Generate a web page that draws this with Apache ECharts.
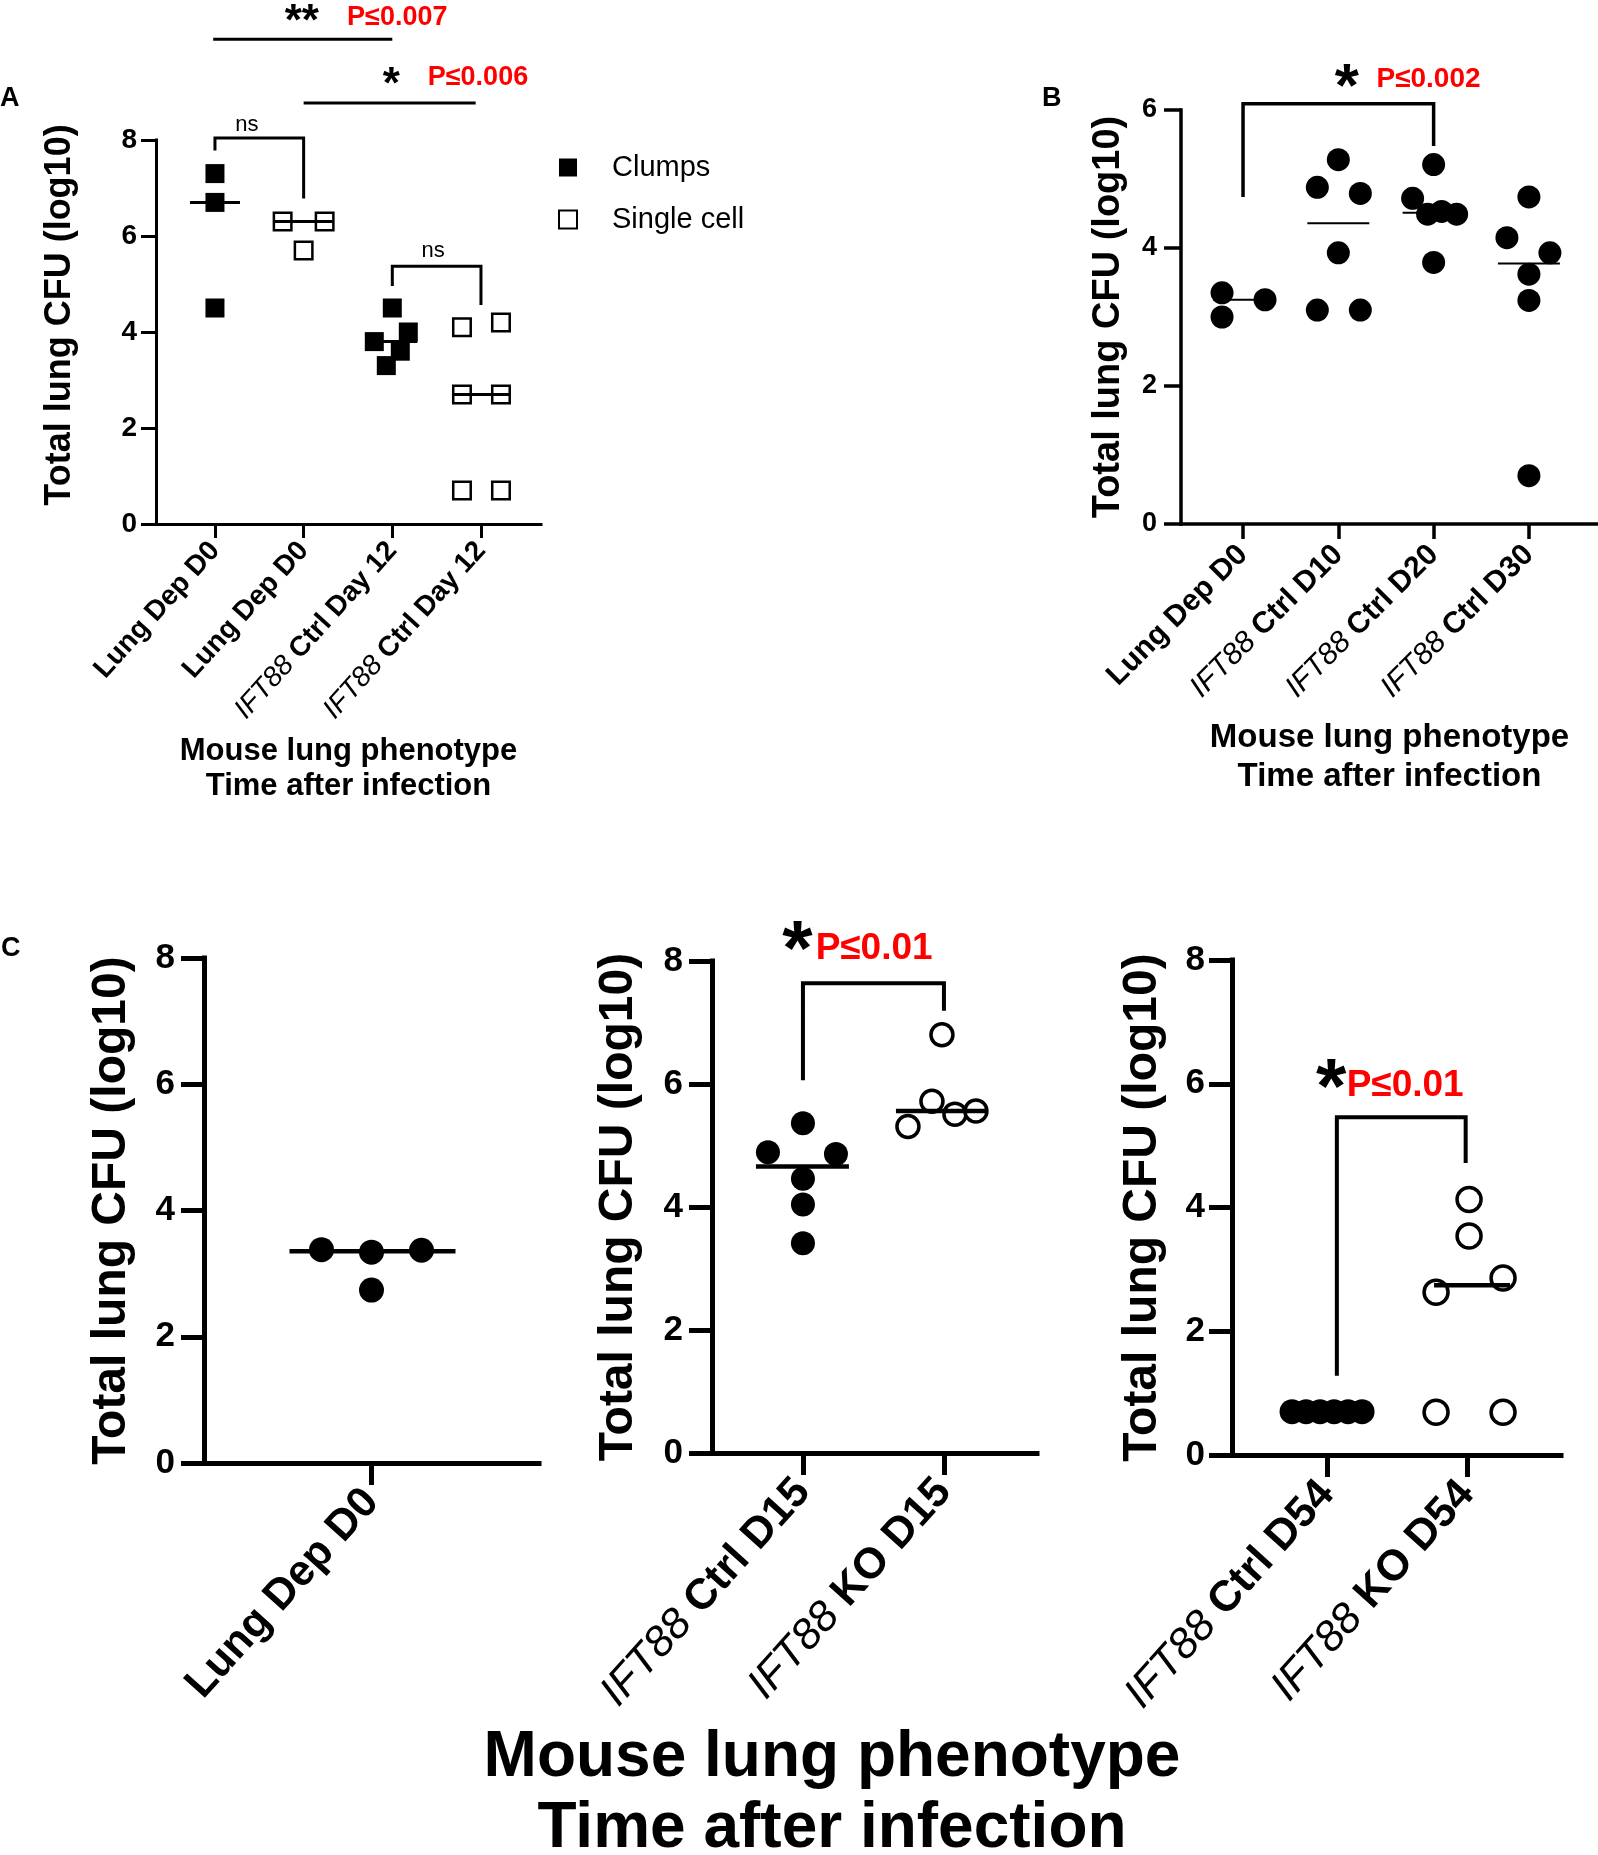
<!DOCTYPE html>
<html><head><meta charset="utf-8">
<script src="https://cdn.jsdelivr.net/npm/echarts@6/dist/echarts.min.js"></script>
<style>html,body{margin:0;padding:0;background:#fff}#c{width:1598px;height:1855px}</style>
</head><body><div id="c"></div>
<script>
// ---------------- DATA ----------------
// Panel A
const catsA = ['Lung Dep D0', 'Lung Dep D0', 'IFT88 Ctrl Day 12', 'IFT88 Ctrl Day 12'];
const ticksA = [0, 2, 4, 6, 8];
const aClumpsD0 = [7.3, 6.7, 4.5];
const aSingleD0 = [6.3, 6.3, 5.7];
const aClumpsD12 = [4.5, 4.0, 3.8, 3.6, 3.3];
const aSingleD12 = [4.1, 4.2, 2.7, 2.7, 0.7, 0.7];
// Panel B
const catsB = ['Lung Dep D0', 'IFT88 Ctrl D10', 'IFT88 Ctrl D20', 'IFT88 Ctrl D30'];
const ticksB = [0, 2, 4, 6];
const bD0 = [3.35, 3.0, 3.25];
const bD10 = [5.28, 4.88, 4.79, 3.93, 3.1, 3.1];
const bD20 = [5.21, 4.72, 4.49, 4.53, 4.49, 3.79];
const bD30 = [4.74, 4.15, 3.93, 3.62, 3.24, 0.7];
// Panel C
const catsC1 = ['Lung Dep D0'];
const catsC2 = ['IFT88 Ctrl D15', 'IFT88 KO D15'];
const catsC3 = ['IFT88 Ctrl D54', 'IFT88 KO D54'];
const ticksC = [0, 2, 4, 6, 8];
const c1D0 = [3.38, 3.34, 3.37, 2.74];
const c2Ctrl = [5.36, 4.89, 4.86, 4.46, 4.04, 3.41];
const c2KO = [6.8, 5.31, 5.72, 5.51, 5.56];
const c3Ctrl = [0.7, 0.7, 0.7, 0.7, 0.7, 0.7];
const c3KO = [4.13, 3.54, 2.86, 2.63, 0.69, 0.69];

// ---------------- STYLE / LAYOUT ----------------
const FONT = '"Liberation Sans", Arial, Helvetica, sans-serif';
const RED = '#ff0000';
// horizontal jitter of the dots inside a column (pixels)
const jitA = { cD0: [0, 0, 0], sD0: [-21, 21, 0], cD12: [0, 16, -18, 8, -6], sD12: [-19, 20, -19, 20, -19, 20] };
const jitB = { d0: [-21, -21, 22], d10: [0, -21, 22, 0, -21, 22], d20: [0, -21, -6, 8, 23, 0], d30: [0, -22, 21, 0, 0, 0] };
const jitC = { d0: [-50, 0, 50, 0], ctrl15: [0, -35, 33, 0, 0, 0], ko15: [-2, -36, -12, 11, 32],
               ctrl54: [-35, -21, -7, 7, 21, 35], ko54: [2, 2, 36, -31, -31, 36] };

function median(a) {
  const s = a.slice().sort((x, y) => x - y), n = s.length;
  return n % 2 ? s[(n - 1) / 2] : (s[n / 2 - 1] + s[n / 2]) / 2;
}
function fmtCat(name) {
  if (name.indexOf('IFT88 ') === 0) return '{i|IFT88}{b| ' + name.slice(6) + '}';
  return '{b|' + name + '}';
}

const grids = [
  { left: 156, top: 140, width: 385, height: 384 },   // A
  { left: 1181, top: 110, width: 417, height: 414 },  // B
  { left: 204, top: 958, width: 335, height: 505 },   // C1
  { left: 712, top: 961, width: 325, height: 492 },   // C2
  { left: 1232, top: 960, width: 329, height: 495 }   // C3
].map(g => Object.assign({ outerBoundsMode: 'none', containLabel: false }, g));

function xAx(g, min, max, cats, o) {
  const pos = cats.map((_, i) => i + 1);
  return {
    type: 'value', gridIndex: g, min, max, position: 'bottom',
    axisLine: { show: true, onZero: false, lineStyle: { color: '#000', width: o.lw, cap: 'square' } },
    axisTick: { show: true, customValues: pos, length: o.tick, lineStyle: { color: '#000', width: o.lw } },
    axisLabel: {
      show: true, customValues: pos, rotate: o.rot, margin: o.margin, hideOverlap: false,
      formatter: v => fmtCat(cats[Math.round(v) - 1]),
      rich: {
        b: { fontWeight: 'bold', fontSize: o.fs, fontFamily: FONT, color: '#000' },
        i: { fontStyle: 'italic', fontWeight: 'normal', fontSize: o.fs, fontFamily: FONT, color: '#000' }
      }
    },
    splitLine: { show: false },
    name: o.name || '', nameLocation: 'middle', nameGap: o.nameGap || 0,
    nameTextStyle: { fontSize: o.nameFs || 12, fontWeight: 'bold', fontFamily: FONT, color: '#000', lineHeight: o.nameLh || 14 }
  };
}
function yAx(g, ticks, o) {
  return {
    type: 'value', gridIndex: g, min: 0, max: ticks[ticks.length - 1], interval: 2,
    axisLine: { show: true, onZero: false, lineStyle: { color: '#000', width: o.lw, cap: 'square' } },
    axisTick: { show: true, customValues: ticks, length: o.tick, lineStyle: { color: '#000', width: o.lw } },
    axisLabel: { show: true, customValues: ticks, margin: o.margin, color: '#000', fontSize: o.fs, fontWeight: 'bold', fontFamily: FONT,
                 showMinLabel: true, showMaxLabel: true },
    splitLine: { show: false },
    name: 'Total lung CFU (log10)', nameLocation: 'middle', nameGap: o.nameGap,
    nameTextStyle: { fontSize: o.nameFs, fontWeight: 'bold', fontFamily: FONT, color: '#000', padding: o.namePad || 0 }
  };
}

const xAxes = [
  xAx(0, 0.335, 4.677, catsA, { lw: 3, tick: 14, rot: 48, margin: 22, fs: 28,
    name: 'Mouse lung phenotype\nTime after infection', nameGap: 210, nameFs: 31, nameLh: 35 }),
  xAx(1, 0.349, 4.725, catsB, { lw: 3.5, tick: 15, rot: 45, margin: 26, fs: 30,
    name: 'Mouse lung phenotype\nTime after infection', nameGap: 194, nameFs: 33, nameLh: 39 }),
  xAx(2, 0, 2, catsC1, { lw: 5, tick: 22, rot: 48, margin: 32, fs: 43 }),
  xAx(3, 0.355, 2.66, catsC2, { lw: 5, tick: 22, rot: 48, margin: 32, fs: 43 }),
  xAx(4, 0.321, 2.671, catsC3, { lw: 5, tick: 22, rot: 48, margin: 32, fs: 43 })
];
const yAxes = [
  yAx(0, ticksA, { lw: 3, tick: 15, margin: 19, fs: 28, nameFs: 36, nameGap: 78, namePad: [0, 0, 0, 34] }),
  yAx(1, ticksB, { lw: 3.5, tick: 17, margin: 24, fs: 27, nameFs: 38, nameGap: 53 }),
  yAx(2, ticksC, { lw: 5, tick: 23, margin: 29, fs: 35, nameFs: 48, nameGap: 68 }),
  yAx(3, ticksC, { lw: 5, tick: 23, margin: 29, fs: 35, nameFs: 48, nameGap: 69 }),
  yAx(4, ticksC, { lw: 5, tick: 23, margin: 27, fs: 35, nameFs: 48, nameGap: 65 })
];

const series = [];
function dots(name, g, cat, vals, jit, sym, size, open, bw) {
  series.push({
    type: 'scatter', name, xAxisIndex: g, yAxisIndex: g, symbol: sym, symbolSize: size, z: 3,
    silent: true, animation: false, clip: false,
    itemStyle: open ? { color: '#fff', borderColor: '#000', borderWidth: bw, opacity: 1 } : { color: '#000', opacity: 1 },
    data: vals.map((v, i) => ({ value: [cat, v], symbolOffset: [jit[i], 0] }))
  });
}
function medLine(g, cat, vals, hl, hr, lw) {
  series.push({
    type: 'custom', xAxisIndex: g, yAxisIndex: g, z: 5, silent: true, animation: false,
    data: [[cat, median(vals)]],
    renderItem: (p, api) => {
      const c = api.coord([api.value(0), api.value(1)]);
      return { type: 'line', shape: { x1: c[0] - hl, y1: c[1], x2: c[0] + hr, y2: c[1] }, style: { stroke: '#000', lineWidth: lw } };
    }
  });
}
// annotations (brackets, stars, p-values) in data coordinates of each panel
function annot(g, list) {
  series.push({
    type: 'custom', xAxisIndex: g, yAxisIndex: g, z: 6, silent: true, animation: false, clip: false,
    data: list.map(() => [1, 1]),
    renderItem: (p, api) => {
      const a = list[p.dataIndex];
      if (a.pts) {
        return { type: 'polyline', shape: { points: a.pts.map(q => api.coord(q)) },
                 style: { stroke: '#000', fill: 'none', lineWidth: a.w } };
      }
      const c = api.coord(a.at);
      return { type: 'text', x: c[0], y: c[1],
               style: { text: a.t, fill: a.color || '#000', font: (a.bold === false ? 'normal ' : 'bold ') + a.fs + 'px ' + FONT,
                        align: a.align || 'center', verticalAlign: 'middle' } };
    }
  });
}

// ---- Panel A
dots('Clumps', 0, 1, aClumpsD0, jitA.cD0, 'rect', 19, false);
dots('Single cell', 0, 2, aSingleD0, jitA.sD0, 'rect', 17.5, true, 2.5);
dots('Clumps', 0, 3, aClumpsD12, jitA.cD12, 'rect', 19, false);
dots('Single cell', 0, 4, aSingleD12, jitA.sD12, 'rect', 17.5, true, 2.5);
medLine(0, 1, aClumpsD0, 25, 25, 3);
medLine(0, 2, aSingleD0, 29, 29, 3);
medLine(0, 3, aClumpsD12, 25, 25, 3);
medLine(0, 4, aSingleD12, 29, 29, 3);
annot(0, [
  { pts: [[0.98, 10.1], [3.0, 10.1]], w: 3 },
  { pts: [[2.0, 8.77], [3.94, 8.77]], w: 3 },
  { pts: [[1, 7.78], [1, 8.04], [2, 8.04], [2, 6.78]], w: 3 },
  { pts: [[3, 4.96], [3, 5.37], [4, 5.37], [4, 4.56]], w: 3 },
  { at: [1.98, 10.45], t: '**', fs: 44 },
  { at: [2.49, 10.55], t: 'P≤0.007', fs: 27, color: RED, align: 'left' },
  { at: [2.99, 9.12], t: '*', fs: 44 },
  { at: [3.40, 9.3], t: 'P≤0.006', fs: 27, color: RED, align: 'left' },
  { at: [1.36, 8.32], t: 'ns', fs: 22, bold: false },
  { at: [3.46, 5.69], t: 'ns', fs: 22, bold: false }
]);

// ---- Panel B
dots('b0', 1, 1, bD0, jitB.d0, 'circle', 23, false);
dots('b10', 1, 2, bD10, jitB.d10, 'circle', 23, false);
dots('b20', 1, 3, bD20, jitB.d20, 'circle', 23, false);
dots('b30', 1, 4, bD30, jitB.d30, 'circle', 23, false);
medLine(1, 1, bD0, 30, 22, 2);
medLine(1, 2, bD10, 31, 31, 2);
medLine(1, 3, bD20, 31, 31, 2);
medLine(1, 4, bD30, 31, 31, 2);
annot(1, [
  { pts: [[1, 4.74], [1, 6.09], [3, 6.09], [3, 5.48]], w: 3.5 },
  { at: [2.09, 6.3], t: '*', fs: 62 },
  { at: [2.40, 6.45], t: 'P≤0.002', fs: 28, color: RED, align: 'left' }
]);

// ---- Panel C
dots('c1', 2, 1, c1D0, jitC.d0, 'circle', 25, false);
medLine(2, 1, c1D0, 82, 84, 4.5);
dots('c2a', 3, 1, c2Ctrl, jitC.ctrl15, 'circle', 24, false);
dots('c2b', 3, 2, c2KO, jitC.ko15, 'circle', 22, true, 3.5);
medLine(3, 1, c2Ctrl, 47, 46, 4.5);
medLine(3, 2, c2KO, 48, 43, 4.5);
annot(3, [
  { pts: [[1, 6.06], [1, 7.64], [2, 7.64], [2, 7.19]], w: 4 },
  { at: [0.96, 8.12], t: '*', fs: 78 },
  { at: [1.09, 8.2], t: 'P≤0.01', fs: 37, color: RED, align: 'left' }
]);
dots('c3a', 4, 1, c3Ctrl, jitC.ctrl54, 'circle', 25, false);
dots('c3b', 4, 2, c3KO, jitC.ko54, 'circle', 24, true, 3.5);
medLine(4, 1, c3Ctrl, 35, 35, 4.5);
medLine(4, 2, c3KO, 33, 43, 4.5);
annot(4, [
  { pts: [[1.07, 1.28], [1.07, 5.46], [1.99, 5.46], [1.99, 4.72]], w: 4 },
  { at: [1.03, 5.88], t: '*', fs: 78 },
  { at: [1.14, 5.96], t: 'P≤0.01', fs: 37, color: RED, align: 'left' }
]);

const chart = echarts.init(document.getElementById('c'), null, { renderer: 'canvas' });
chart.setOption({
  animation: false,
  backgroundColor: '#fff',
  textStyle: { fontFamily: FONT },
  grid: grids,
  xAxis: xAxes,
  yAxis: yAxes,
  legend: {
    data: [{ name: 'Clumps' }, { name: 'Single cell' }],
    orient: 'vertical', left: 553, top: 148, icon: 'rect', itemWidth: 18, itemHeight: 18, itemGap: 23,
    selectedMode: false,
    textStyle: { fontSize: 29, fontFamily: FONT, color: '#000', lineHeight: 18, padding: [0, 0, 0, 30] }
  },
  graphic: [
    { type: 'text', left: 0, top: 85, style: { text: 'A', font: 'bold 27px ' + FONT, fill: '#000' } },
    { type: 'text', left: 1042, top: 85, style: { text: 'B', font: 'bold 27px ' + FONT, fill: '#000' } },
    { type: 'text', left: 1, top: 935, style: { text: 'C', font: 'bold 27px ' + FONT, fill: '#000' } },
    { type: 'text', x: 832, y: 1758, style: { text: 'Mouse lung phenotype', font: 'bold 64px ' + FONT, fill: '#000', align: 'center', verticalAlign: 'middle' } },
    { type: 'text', x: 832, y: 1829, style: { text: 'Time after infection', font: 'bold 64px ' + FONT, fill: '#000', align: 'center', verticalAlign: 'middle' } }
  ],
  series
});
</script>
</body></html>
